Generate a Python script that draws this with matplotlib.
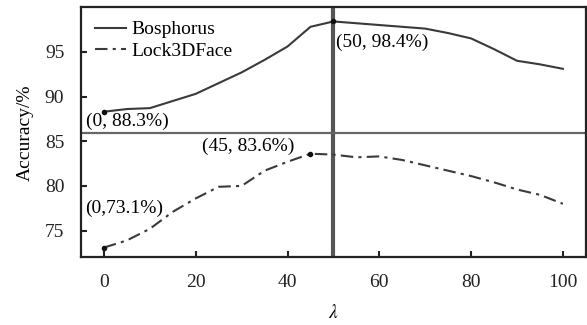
import matplotlib.pyplot as plt
import numpy as np

plt.rcParams['font.family'] = ['Liberation Serif', 'DejaVu Serif']
plt.rcParams['mathtext.fontset'] = 'stix'

lam = [0, 5, 10, 15, 20, 25, 30, 35, 40, 45, 50, 55, 60, 65, 70, 75, 80, 85, 90, 95, 100]
bosphorus = [88.3, 88.6, 88.7, 89.5, 90.3, 91.5, 92.7, 94.1, 95.6, 97.8, 98.4, 98.2, 98.0, 97.8, 97.6, 97.1, 96.5, 95.3, 94.0, 93.6, 93.1]
lock3d = [73.1, 73.9, 75.2, 77.1, 78.6, 79.9, 80.0, 81.7, 82.7, 83.6, 83.5, 83.2, 83.3, 82.9, 82.3, 81.7, 81.1, 80.4, 79.6, 79.0, 78.0]

fig, ax = plt.subplots(figsize=(5.87, 3.25), dpi=100)
fig.subplots_adjust(left=0.138, right=0.998, top=0.978, bottom=0.208)

ax.plot(lam, bosphorus, color='#3a3a3a', lw=1.5, label='Bosphorus')
ax.plot(lam, lock3d, color='#3a3a3a', lw=1.5, dashes=(6, 2.5, 1.5, 2.5), label='Lock3DFace')

# highlighted points
ax.plot([0, 50], [bosphorus[0], bosphorus[10]], 'o', color='#111111', ms=3)
ax.plot([0, 45], [lock3d[0], lock3d[9]], 'o', color='#111111', ms=3)

ax.axvline(50, color='#555555', lw=3, zorder=1)
ax.axhline(85.9, color='#666666', lw=1.6, zorder=1)

fs = 14
ax.text(-4, 87.2, '(0, 88.3%)', fontsize=fs, va='center', ha='left')
ax.text(50.5, 96.1, '(50, 98.4%)', fontsize=fs, va='center', ha='left')
ax.text(31.5, 84.4, '(45, 83.6%)', fontsize=fs, va='center', ha='center')
ax.text(-4, 77.5, '(0,73.1%)', fontsize=fs, va='center', ha='left')

ax.set_xlim(-5, 105)
ax.set_ylim(72, 100)
ax.set_xticks([0, 20, 40, 60, 80, 100])
ax.set_yticks([75, 80, 85, 90, 95])
ax.tick_params(direction='in', labelsize=fs, length=4, width=1.5, colors='#222222', pad=12)
for s in ax.spines.values():
    s.set_linewidth(1.6)
    s.set_color('#222222')

ax.set_ylabel('Accuracy/%', fontsize=fs, labelpad=8)
ax.set_xlabel(r'$\lambda$', fontsize=fs, labelpad=9)

leg = ax.legend(loc='upper left', fontsize=fs, frameon=False, handlelength=1.6,
                borderaxespad=0.3, labelspacing=0.2, handletextpad=0.3)

fig.savefig('out.png', dpi=100)
